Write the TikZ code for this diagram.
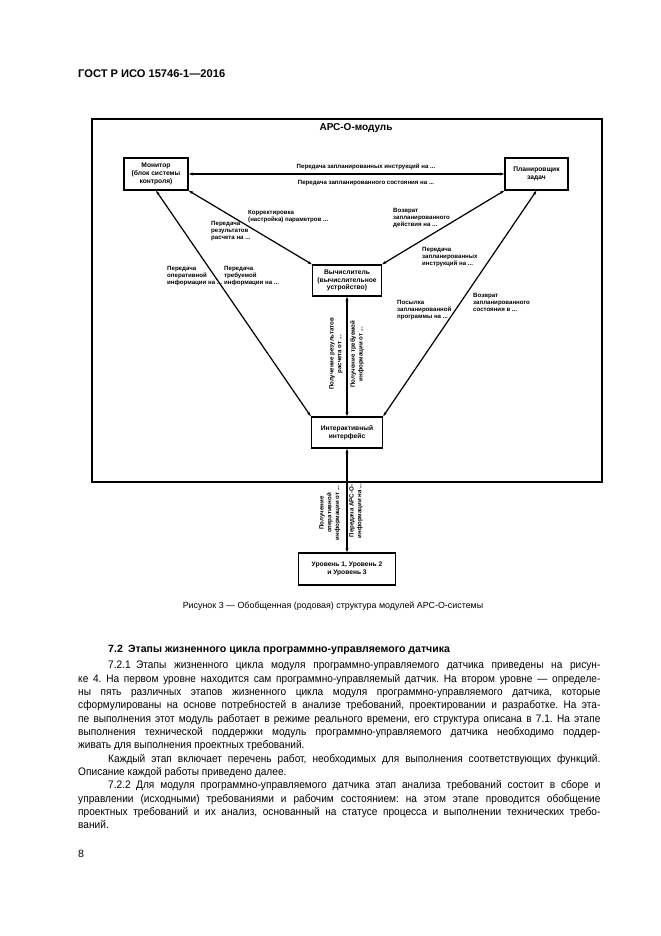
\documentclass[tikz,border=0pt]{standalone}
\usepackage{fontspec}
\setmainfont{Liberation Sans}
\newfontfamily\bodyfont{Liberation Sans}[FakeStretch=0.93]
\usetikzlibrary{arrows.meta,calc}
\begin{document}
\frenchspacing
\begin{tikzpicture}[x=0.9pt,y=-0.9pt,
  blk/.style={draw,line width=1.1pt,inner sep=1pt,align=center,font=\fontsize{6}{7}\selectfont\bfseries},
  lbl/.style={inner sep=0pt,align=left,anchor=north west,font=\fontsize{5.5}{6.4}\selectfont\bfseries},
  vlbl/.style={inner sep=0pt,align=center,rotate=90,font=\fontsize{5.5}{7}\selectfont\bfseries},
  conn/.style={line width=1.1pt,{Stealth[length=4pt,width=2.6pt]}-{Stealth[length=4pt,width=2.6pt]}},
  txt/.style={inner sep=0pt,anchor=base west}]
\fill[white] (0,0) rectangle (661,936);
\useasboundingbox (0,0) rectangle (661,936);

\node[txt,font=\fontsize{10}{12}\selectfont\bfseries] (hdr) at (78,77) {ГОСТ Р ИСО 15746-1—2016};

% frame
\draw[line width=1.6pt] (92,119) rectangle (602,482);
\node[font=\fontsize{9}{10}\selectfont\bfseries,inner sep=0pt] (title) at (356,128) {АРС-О-модуль};

% boxes
\node[blk,minimum width=57.6pt,minimum height=28.8pt] (mon) at (156,174) {Монитор\\(блок системы\\контроля)};
\node[blk,minimum width=56.7pt,minimum height=28.8pt] (plan) at (536.5,174) {Планировщик\\задач};
\node[blk,minimum width=62pt,minimum height=28pt] (calc) at (347,280.5) {Вычислитель\\(вычислительное\\устройство)};
\node[blk,minimum width=64pt,minimum height=28pt] (ifc) at (347,432.5) {Интерактивный\\интерфейс};
\node[blk,minimum width=87pt,minimum height=28.8pt] (lvl) at (347,569) {Уровень 1, Уровень 2\\и Уровень 3};

% connectors
\draw[conn] (mon.east) -- (plan.west);
\draw[conn] (mon.south east) -- (calc.north west);
\draw[conn] (mon.south) -- (ifc.north west);
\draw[conn] (plan.south west) -- (calc.north east);
\draw[conn] (plan.south) -- (ifc.north east);
\draw[conn] (calc.south) -- (ifc.north);
\draw[conn] (ifc.south) -- (lvl.north);

% labels
\node[font=\fontsize{5.5}{6.4}\selectfont\bfseries,inner sep=0pt] (l1) at (366,167) {Передача запланированных инструкций на ...};
\node[font=\fontsize{5.5}{6.4}\selectfont\bfseries,inner sep=0pt] (l2) at (366,183) {Передача запланированного состояния на ...};
\node[lbl] (l3) at (248,210) {Корректировка\\(настройка) параметров ...};
\node[lbl] (l4) at (211,221) {Передача\\результатов\\расчета на ...};
\node[lbl] (l5) at (167,266) {Передача\\оперативной\\информации на ...};
\node[lbl] (l6) at (224,266) {Передача\\требуемой\\информации на ...};
\node[lbl] (l7) at (393,208) {Возврат\\запланированного\\действия на ...};
\node[lbl] (l8) at (422,247) {Передача\\запланированных\\инструкций на ...};
\node[lbl] (l9) at (473,293) {Возврат\\запланированного\\состояния в ...};
\node[lbl] (l10) at (397,300) {Посылка\\запланированной\\программы на ...};
\node[vlbl] (v1) at (336,354) {Получение результатов\\расчета от ...};
\node[vlbl] (v2) at (357,354) {Получение требуемой\\информации от ...};
\node[vlbl] (v3) at (330,513) {Получение\\оперативной\\информации от ...};
\node[vlbl] (v4) at (356,511) {Передача АРС-О-\\информации на ...};

% caption
\node[font=\fontsize{8}{9.6}\selectfont,inner sep=0pt] (cap) at (333,606) {Рисунок 3 — Обобщенная (родовая) структура модулей АРС-О-системы};

\node[txt,font=\fontsize{9.5}{12}\selectfont\bfseries] (sec) at (108,652) {7.2\enspace Этапы жизненного цикла программно-управляемого датчика};

\node[anchor=north west,inner sep=0pt,text width=470pt,align=justify,font=\bodyfont\fontsize{9.8}{12}\selectfont] (body) at (78,661) {%
\hspace*{27pt}7.2.1\enspace Этапы жизненного цикла модуля программно-управляемого датчика приведены на рисун-\linebreak
ке 4. На первом уровне находится сам программно-управляемый датчик. На втором уровне — определе-\linebreak
ны пять различных этапов жизненного цикла модуля программно-управляемого датчика, которые\linebreak
сформулированы на основе потребностей в анализе требований, проектировании и разработке. На эта-\linebreak
пе выполнения этот модуль работает в режиме реального времени, его структура описана в 7.1. На этапе\linebreak
выполнения технической поддержки модуль программно-управляемого датчика необходимо поддер-\linebreak
живать для выполнения проектных требований.\par
\hspace*{27pt}Каждый этап включает перечень работ, необходимых для выполнения соответствующих функций.\linebreak
Описание каждой работы приведено далее.\par
\hspace*{27pt}7.2.2\enspace Для модуля программно-управляемого датчика этап анализа требований состоит в сборе и\linebreak
управлении (исходными) требованиями и рабочим состоянием: на этом этапе проводится обобщение\linebreak
проектных требований и их анализ, основанный на статусе процесса и выполнении технических требо-\linebreak
ваний.\par};

\node[txt,font=\fontsize{9.5}{12}\selectfont] (pg) at (78,857) {8};
\end{tikzpicture}
\end{document}
